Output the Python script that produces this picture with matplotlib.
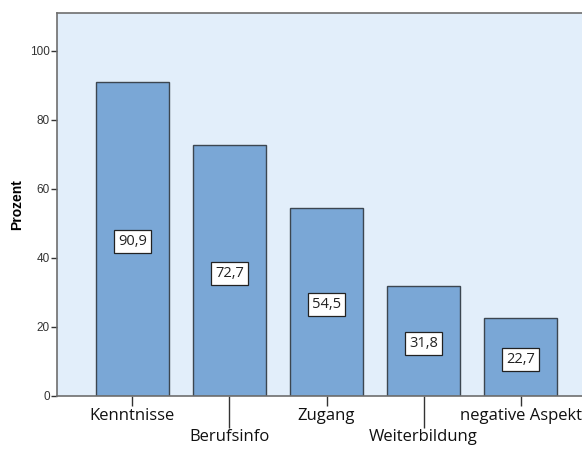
import matplotlib
matplotlib.use("Agg")
import matplotlib.pyplot as plt

categories = ["Kenntnisse", "Berufsinfo", "Zugang", "Weiterbildung", "negative Aspekt"]
values = [90.9, 72.7, 54.5, 31.8, 22.7]
value_labels = ["90,9", "72,7", "54,5", "31,8", "22,7"]
yticks = [0, 20, 40, 60, 80, 100]

fig = plt.figure(figsize=(5.82, 4.51), dpi=100)
fig.patch.set_facecolor("white")
ax = fig.add_axes([57/582, 55/451, (596-57)/582, 383/451])
ax.set_facecolor("#E2EEFA")

x = list(range(len(categories)))
ax.bar(x, values, width=0.75, color="#7AA7D6", edgecolor="#3C4650", linewidth=1.0, zorder=2)

for xi, v, lab in zip(x, values, value_labels):
    ax.text(xi, v / 2 - 0.8, lab, ha="center", va="center", fontsize=10.5, family="Open Sans",
            color="#222222", zorder=3,
            bbox=dict(boxstyle="square,pad=0.27", facecolor="white", edgecolor="#222222", linewidth=0.9))

ax.set_xlim(-0.778, 4.778)
ax.set_ylim(0, 111)

for s in ["top", "left", "bottom"]:
    ax.spines[s].set_color("#6E6E6E")
    ax.spines[s].set_linewidth(1.2)
ax.spines["right"].set_visible(False)

ax.set_yticks(yticks)
ax.set_yticklabels([str(t) for t in yticks], fontsize=8.5, family="Liberation Sans", color="#333333")
ax.tick_params(axis="y", length=4, width=1, color="#333333", pad=1)

major = [i for i in x if i % 2 == 0]
minor = [i for i in x if i % 2 == 1]
ax.set_xticks(major)
ax.set_xticklabels([categories[i] for i in major], fontsize=12, family="Open Sans", color="#111111")
ax.set_xticks(minor, minor=True)
ax.set_xticklabels([categories[i] for i in minor], minor=True, fontsize=12, family="Open Sans", color="#111111")
ax.tick_params(axis="x", which="major", length=7, width=1, color="#333333", pad=2)
ax.tick_params(axis="x", which="minor", length=23, width=1, color="#333333", pad=1)

ax.set_ylabel("Prozent", fontsize=10, fontweight="bold", family="Liberation Sans", labelpad=4)

fig.savefig("out.png", dpi=100)
